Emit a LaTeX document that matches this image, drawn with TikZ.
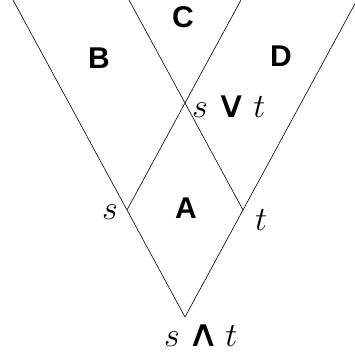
\RequirePackage{fix-cm}
\documentclass[tikz,border=0pt]{standalone}
\usepackage{fontspec}
\newfontfamily\lblfont{Liberation Sans}
\newfontfamily\opfont{DejaVu Sans}
\usetikzlibrary{positioning}

\newcommand{\joinop}{\mathbin{\scalebox{1.3}[1.1]{\opfont ∨}\mkern-1mu}}
\newcommand{\meetop}{\mathbin{\scalebox{1.3}[1.1]{\opfont ∧}\mkern-1mu}}

\begin{document}
\begin{tikzpicture}[
  x=1pt,y=1pt,
  edge/.style={line width=0.6pt},
  region/.style={font=\fontsize{30}{32}\selectfont\lblfont\bfseries,inner sep=0pt},
  elem/.style={font=\fontsize{34}{36}\selectfont,inner sep=0pt}]
  \useasboundingbox (0,0) rectangle (355,360);
  \clip (0,0) rectangle (355,360);
  % lattice points
  \coordinate (meet) at (185,43);
  \coordinate (s) at (127,150);
  \coordinate (t) at (243,150);
  \coordinate (join) at (185,257);
  % ends of the lines at the top
  \coordinate (tl) at (13,360);
  \coordinate (tr) at (357,360);
  \coordinate (il) at (129,360);
  \coordinate (ir) at (241,360);
  \draw[edge] (tl) -- (s) -- (meet) -- (t) -- (tr);
  \draw[edge] (s) -- (join) -- (ir);
  \draw[edge] (t) -- (join) -- (il);
  % labels
  \node (ls) [elem,anchor=base east] at (118,140) {$s$};
  \node (lt) [elem,anchor=base west] at (255,130) {$t$};
  \node (lj) [elem,anchor=base west] at (192,243) {$s\joinop t$};
  \node (lm) [elem,anchor=base west] at (164,13) {$s\meetop t$};
  \node (ra) [region] at (186,152) {A};
  \node (rb) [region] at (99,302) {B};
  \node (rc) [region] at (183,343) {C};
  \node (rd) [region] at (281,304) {D};
\end{tikzpicture}
\end{document}
